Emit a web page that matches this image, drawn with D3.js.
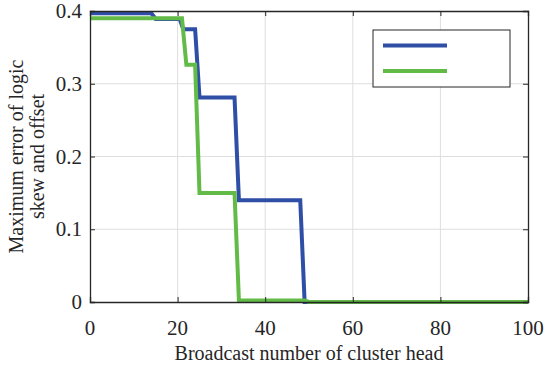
<!DOCTYPE html>
<html>
<head>
<meta charset="utf-8">
<script src="https://cdn.jsdelivr.net/npm/d3@7"></script>
</head>
<body style="margin:0;background:#fff">
<svg id="chart" width="550" height="366" font-family="Liberation Serif">
<g id="xticklabels">
<text x="90" y="335" text-anchor="middle" font-family="Liberation Serif" font-size="21" fill="#262626">0</text>
<text x="177" y="335" text-anchor="middle" font-family="Liberation Serif" font-size="21" fill="#262626">20</text>
<text x="265" y="335" text-anchor="middle" font-family="Liberation Serif" font-size="21" fill="#262626">40</text>
<text x="353" y="335" text-anchor="middle" font-family="Liberation Serif" font-size="21" fill="#262626">60</text>
<text x="440" y="335" text-anchor="middle" font-family="Liberation Serif" font-size="21" fill="#262626">80</text>
<text x="528" y="335" text-anchor="middle" font-family="Liberation Serif" font-size="21" fill="#262626">100</text>
</g>
<g id="yticklabels">
<text x="82" y="309" text-anchor="end" font-family="Liberation Serif" font-size="21" fill="#262626">0</text>
<text x="82" y="236" text-anchor="end" font-family="Liberation Serif" font-size="21" fill="#262626">0.1</text>
<text x="82" y="164" text-anchor="end" font-family="Liberation Serif" font-size="21" fill="#262626">0.2</text>
<text x="82" y="91" text-anchor="end" font-family="Liberation Serif" font-size="21" fill="#262626">0.3</text>
<text x="82" y="18" text-anchor="end" font-family="Liberation Serif" font-size="21" fill="#262626">0.4</text>
</g>
<text id="xlabel" x="309" y="360" text-anchor="middle" font-family="Liberation Serif" font-size="20" fill="#262626">Broadcast number of cluster head</text>
<text id="ylabel1" x="-156" y="23" transform="rotate(-90)" text-anchor="middle" font-family="Liberation Serif" font-size="20" fill="#262626">Maximum error of logic</text>
<text id="ylabel2" x="-156" y="44" transform="rotate(-90)" text-anchor="middle" font-family="Liberation Serif" font-size="20" fill="#262626">skew and offset</text>
</svg>
<svg id="legendtext" width="0" height="0" style="position:absolute;left:0;top:0;overflow:visible" font-family="Liberation Serif">
<text x="451" y="52.5" font-family="Liberation Serif" font-size="21" fill="#262626">Offset</text>
<text x="451" y="78" font-family="Liberation Serif" font-size="21" fill="#262626">Skew</text>
</svg>
<script>
// data
var offsetX = [0, 14, 15, 20.5, 21.3, 24, 25, 33, 34, 48, 49, 100];
var offsetY = [0.397, 0.397, 0.389, 0.389, 0.375, 0.375, 0.281, 0.281, 0.14, 0.14, 0, 0];
var skewX = [0, 21, 22, 24, 25, 33, 34, 49, 50, 100];
var skewY = [0.39, 0.39, 0.326, 0.326, 0.15, 0.15, 0.002, 0.002, 0, 0];
var xTicks = [0, 20, 40, 60, 80, 100];
var yTicks = [0, 0.1, 0.2, 0.3, 0.4];
var seriesNames = ["Offset", "Skew"];

//variables *************************************************************
var pLeft = 90, pRight = 528, pTop = 11, pBottom = 302;
var colors = ["#2f4fa6", "#63bb47"];
var axisColor = "#262626";

var svg = d3.select("#chart");

var x = d3.scaleLinear().domain([0, 100]).range([pLeft, pRight]);
var y = d3.scaleLinear().domain([0, 0.4]).range([pBottom, pTop]);

// grid, kept below everything else
var grid = svg.insert("g", ":first-child");
grid.selectAll("line.v")
  .data(xTicks.slice(1, -1)).enter().append("line")
  .attr("class", "v")
  .attr("x1", function(d) { return x(d); }).attr("x2", function(d) { return x(d); })
  .attr("y1", pTop).attr("y2", pBottom)
  .attr("stroke", "#dedede").attr("stroke-width", 1);
grid.selectAll("line.h")
  .data(yTicks.slice(1, -1)).enter().append("line")
  .attr("class", "h")
  .attr("x1", pLeft).attr("x2", pRight)
  .attr("y1", function(d) { return y(d); }).attr("y2", function(d) { return y(d); })
  .attr("stroke", "#dedede").attr("stroke-width", 1);

// lines
var line = d3.line()
  .x(function(d) { return x(d[0]); })
  .y(function(d) { return y(d[1]); });

var series = [d3.zip(offsetX, offsetY), d3.zip(skewX, skewY)];
svg.selectAll("path.series")
  .data(series).enter().append("path")
  .attr("class", "series")
  .attr("d", line)
  .attr("fill", "none")
  .attr("stroke", function(d, i) { return colors[i]; })
  .attr("stroke-width", 4)
  .attr("stroke-linejoin", "miter");

// axes: d3 draws the box and tick marks, labels are the text in the markup
var xAxis = svg.append("g")
  .attr("transform", "translate(0," + pBottom + ")")
  .call(d3.axisBottom(x).tickValues(xTicks).tickSize(-5).tickFormat(""));
var yAxis = svg.append("g")
  .attr("transform", "translate(" + pLeft + ",0)")
  .call(d3.axisLeft(y).tickValues(yTicks).tickSize(-5).tickFormat(""));
var xTop = svg.append("g")
  .attr("transform", "translate(0," + pTop + ")")
  .call(d3.axisTop(x).tickValues(xTicks).tickSize(-5).tickFormat(""));
var yRight = svg.append("g")
  .attr("transform", "translate(" + pRight + ",0)")
  .call(d3.axisRight(y).tickValues(yTicks).tickSize(-5).tickFormat(""));

[xAxis, yAxis, xTop, yRight].forEach(function(a) {
  a.selectAll(".domain").attr("stroke", axisColor).attr("stroke-width", 1.3);
  a.selectAll(".tick line").attr("stroke", axisColor).attr("stroke-width", 1);
});

// place the tick labels with the scales
d3.select("#xticklabels").selectAll("text").data(xTicks)
  .attr("x", function(d) { return x(d); })
  .attr("y", pBottom + 33);
d3.select("#yticklabels").selectAll("text").data(yTicks)
  .attr("x", pLeft - 8)
  .attr("y", function(d) { return y(d) + 7; });

d3.select("#xlabel").attr("x", (pLeft + pRight) / 2);
d3.selectAll("#ylabel1, #ylabel2").attr("x", -(pTop + pBottom) / 2);

//legend related *************************************************************
var lg = svg.append("g");
lg.append("rect")
  .attr("x", 373).attr("y", 30).attr("width", 137).attr("height", 57)
  .attr("fill", "#fff").attr("stroke", axisColor).attr("stroke-width", 1);
lg.selectAll("line")
  .data(seriesNames).enter().append("line")
  .attr("x1", 383).attr("x2", 447)
  .attr("y1", function(d, i) { return 45.5 + i * 25.5; })
  .attr("y2", function(d, i) { return 45.5 + i * 25.5; })
  .attr("stroke", function(d, i) { return colors[i]; })
  .attr("stroke-width", 4);
d3.select("#legendtext").selectAll("text").data(seriesNames)
  .attr("y", function(d, i) { return 52.5 + i * 25.5; });
</script>
</body>
</html>
